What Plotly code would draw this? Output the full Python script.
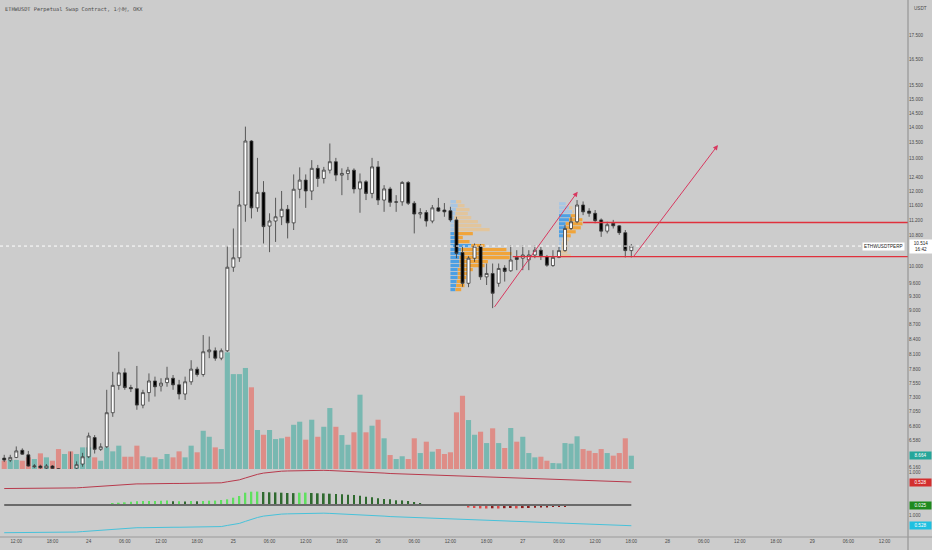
import numpy as np
import pandas as pd
import plotly.graph_objects as go

BG = "#cccccc"
UP_VOL = "#78b8b1"
DN_VOL = "#de8d87"

# ETHWUSDT perpetual, 1h candles, 23 Sep 10:00 -> 27 Sep 18:00
times = pd.date_range("2022-09-23 10:00", periods=105, freq="h")

opens = [6.30, 6.27, 6.31, 6.42, 6.35, 6.17, 6.18, 6.15, 6.18, 6.14,
         6.05, 6.10, 6.15, 6.21, 6.32, 6.62, 6.435, 6.475, 7.03, 7.51,
         7.74, 7.47, 7.45, 7.16, 7.38, 7.59, 7.50, 7.56, 7.64, 7.52,
         7.355, 7.575, 7.81, 7.71, 8.145, 8.165, 8.02, 8.165, 9.99, 10.22,
         11.61, 13.55, 11.53, 11.97, 11.035, 11.17, 11.285, 11.49, 11.12, 12.06,
         12.33, 12.01, 12.685, 12.38, 12.63, 12.89, 12.48, 12.53, 12.63, 12.07,
         12.28, 11.94, 12.73, 11.75, 12.07, 11.685, 11.70, 12.26, 11.66, 11.36,
         11.40, 11.17, 11.53, 11.47, 11.45, 11.20, 10.35, 9.61, 10.21, 10.51,
         9.76, 9.84, 9.61, 9.97, 9.905, 10.23, 10.21, 10.17, 10.29, 10.41,
         10.25, 10.03, 10.23, 10.40, 10.97, 11.15, 11.61, 11.44, 11.38, 11.20,
         10.90, 11.11, 11.04, 10.86, 10.40]
highs = [6.35, 6.35, 6.48, 6.45, 6.41, 6.21, 6.20, 6.21, 6.195, 6.15,
         6.11, 6.40, 6.25, 6.38, 6.70, 6.66, 6.53, 7.43, 7.76, 8.145,
         7.825, 7.52, 7.87, 7.43, 7.73, 7.67, 7.64, 7.855, 7.70, 7.61,
         7.67, 7.98, 7.855, 8.48, 8.45, 8.23, 8.21, 10.50, 10.97, 12.01,
         14.03, 13.58, 13.01, 12.30, 11.38, 11.815, 12.01, 11.61, 12.50, 12.715,
         12.50, 12.94, 12.79, 12.73, 13.47, 13.01, 12.685, 12.73, 12.685, 12.53,
         12.33, 13.01, 12.91, 12.18, 12.13, 11.89, 12.30, 12.30, 11.72, 11.52,
         11.47, 11.61, 11.81, 11.665, 11.56, 11.285, 10.54, 10.26, 10.58, 10.565,
         10.08, 10.08, 10.08, 10.04, 10.54, 10.41, 10.54, 10.41, 10.54, 10.50,
         10.29, 10.41, 10.50, 11.06, 11.285, 11.75, 11.71, 11.52, 11.47, 11.24,
         11.15, 11.20, 11.06, 10.93, 10.565]
lows = [6.24, 6.24, 6.30, 6.35, 6.17, 6.15, 6.14, 6.13, 6.13, 6.02,
        6.00, 6.03, 6.12, 6.17, 6.30, 6.37, 6.41, 6.455, 6.96, 7.43,
        7.43, 7.39, 7.08, 7.105, 7.22, 7.31, 7.40, 7.485, 7.43, 7.26,
        7.25, 7.52, 7.67, 7.67, 8.02, 7.97, 7.98, 8.14, 9.88, 10.12,
        11.15, 11.24, 11.42, 10.58, 10.36, 10.62, 11.06, 10.71, 10.93, 11.80,
        11.53, 11.75, 12.13, 12.23, 12.53, 12.30, 11.89, 12.33, 11.94, 11.395,
        11.75, 11.80, 11.61, 11.42, 11.56, 11.42, 11.59, 11.61, 10.84, 11.24,
        11.02, 11.11, 11.42, 11.285, 11.15, 10.21, 9.53, 9.52, 10.12, 9.69,
        9.57, 9.05, 9.53, 9.65, 9.88, 9.92, 9.92, 9.92, 10.21, 10.165,
        10.00, 10.00, 10.21, 10.37, 10.93, 11.11, 11.33, 11.285, 11.11, 10.75,
        10.84, 10.97, 10.80, 10.23, 10.23]
closes = [6.27, 6.31, 6.41, 6.36, 6.18, 6.18, 6.155, 6.18, 6.146, 6.05,
          6.09, 6.08, 6.20, 6.32, 6.645, 6.435, 6.475, 7.03, 7.51, 7.74,
          7.47, 7.45, 7.16, 7.38, 7.59, 7.485, 7.55, 7.64, 7.52, 7.355,
          7.575, 7.81, 7.71, 8.145, 8.18, 8.02, 8.165, 9.99, 10.22, 11.61,
          13.55, 11.53, 11.97, 11.02, 11.17, 11.285, 11.49, 11.12, 12.06, 12.33,
          12.01, 12.685, 12.38, 12.63, 12.89, 12.48, 12.53, 12.63, 12.07, 12.28,
          11.94, 12.73, 11.75, 12.07, 11.685, 11.70, 12.26, 11.66, 11.36, 11.40,
          11.17, 11.53, 11.44, 11.42, 11.20, 10.33, 9.61, 10.21, 10.51, 9.76,
          9.84, 9.38, 9.96, 9.89, 10.165, 10.18, 10.29, 10.29, 10.41, 10.27,
          10.04, 10.23, 10.40, 10.97, 11.15, 11.61, 11.42, 11.38, 11.18, 10.90,
          11.07, 11.04, 10.86, 10.40, 10.514]
volumes = [5.4, 5.9, 5.9, 5.4, 7.6, 6.5, 10.2, 7.6, 5.4, 13.0,
           9.8, 11.5, 9.8, 14.1, 14.1, 7.6, 5.4, 14.1, 11.5, 15.2,
           8.0, 8.0, 15.2, 8.3, 7.6, 7.6, 6.5, 9.8, 7.6, 11.5,
           7.6, 15.2, 10.9, 24.9, 21.0, 14.1, 13.0, 76.0, 61.8, 61.8,
           65.8, 53.2, 25.4, 22.3, 25.4, 19.5, 20.0, 21.0, 28.8, 30.8,
           19.1, 32.1, 21.0, 27.5, 39.7, 27.5, 22.1, 15.8, 23.9, 48.4,
           23.9, 28.2, 32.1, 20.0, 9.1, 6.5, 8.3, 6.5, 20.0, 10.4,
           17.8, 11.3, 13.0, 9.8, 10.9, 36.9, 47.7, 31.9, 22.3, 24.3,
           16.9, 26.5, 16.9, 13.7, 26.7, 17.8, 21.0, 10.4, 7.6, 8.0,
           5.4, 3.9, 3.7, 16.9, 16.5, 21.3, 13.0, 11.9, 10.4, 13.0,
           10.4, 8.7, 10.4, 20.0, 8.664]

# oscillator histogram (middle indicator pane)
hist = [0, 0, 0, 0, 0, 0, 0, 0, 0, 0,
        0, 0, 0, 0, 0, 0, 0, 0, 0.017, 0.023,
        0.027, 0.033, 0.037, 0.040, 0.040, 0.041, 0.043, 0.044, 0.037, 0.037,
        0.036, 0.040, 0.037, 0.040, 0.043, 0.044, 0.050, 0.057, 0.073, 0.090,
        0.123, 0.133, 0.134, 0.130, 0.127, 0.126, 0.123, 0.120, 0.119, 0.123,
        0.124, 0.120, 0.117, 0.116, 0.113, 0.110, 0.107, 0.103, 0.100, 0.093,
        0.083, 0.077, 0.067, 0.060, 0.057, 0.047, 0.046, 0.040, 0.030, 0.020,
        0.010, 0.003, 0, 0, 0, 0, -0.005, -0.025, -0.030, -0.034,
        -0.035, -0.033, -0.035, -0.032, -0.030, -0.034, -0.031, -0.030, -0.028, -0.026,
        -0.025, -0.021, -0.020, -0.015, 0, 0, 0, 0, 0, 0,
        0, 0, 0, 0, 0]

# smoothed ratio line (shown in the red and the cyan pane)
ratio = [0.22, 0.22, 0.22, 0.23, 0.23, 0.23, 0.23, 0.24, 0.24, 0.24,
         0.24, 0.25, 0.25, 0.27, 0.29, 0.30, 0.31, 0.34, 0.37, 0.40,
         0.42, 0.43, 0.44, 0.44, 0.45, 0.45, 0.45, 0.46, 0.46, 0.46,
         0.46, 0.47, 0.47, 0.48, 0.48, 0.49, 0.49, 0.54, 0.58, 0.63,
         0.72, 0.81, 0.89, 0.95, 0.99, 1.02, 1.04, 1.05, 1.06, 1.07,
         1.08, 1.08, 1.08, 1.08, 1.07, 1.06, 1.05, 1.04, 1.03, 1.01,
         0.99, 0.98, 0.96, 0.95, 0.93, 0.92, 0.91, 0.90, 0.89, 0.87,
         0.86, 0.84, 0.83, 0.82, 0.80, 0.79, 0.78, 0.77, 0.77, 0.76,
         0.76, 0.75, 0.75, 0.74, 0.73, 0.72, 0.71, 0.69, 0.68, 0.67,
         0.66, 0.65, 0.63, 0.61, 0.60, 0.59, 0.58, 0.57, 0.56, 0.55,
         0.55, 0.54, 0.54, 0.53, 0.528]

# price scale labels (the ones not hidden behind the value boxes)
price_ticks = [6.16, 6.58, 6.8, 7.05, 7.3, 7.55, 7.8, 8.1, 8.4, 8.7, 9.0, 9.3,
               9.6, 10.0, 10.8, 11.2, 11.6, 12.0, 12.4, 13.0, 13.5, 14.0,
               14.5, 15.0, 15.5, 16.5, 17.5]

# fixed range volume profiles: rows listed top -> bottom
vp1_start = pd.Timestamp("2022-09-26 12:00")
vp1_high, vp1_low = 11.75, 9.41
vp1_up = [5.7, 7.3, 5.7, 5, 4, 4, 4, 4, 4, 5, 5.7, 20.7, 10.7, 10.7, 9, 9, 9,
          7.3, 7.3, 7.3, 6.3, 5.7, 5]
vp1_down = [5, 6.7, 13.3, 12.3, 16.7, 23.3, 26.7, 35, 18.3, 7.3, 13.3, 13.3, 45,
            50, 50, 28.3, 25, 15, 11.7, 8.3, 7.7, 8.3, 5.7]
vp1_va = (8, 22)
vp2_start = pd.Timestamp("2022-09-27 06:00")
vp2_high, vp2_low = 11.69, 10.21
vp2_up = [6.7, 10, 13.3, 11.7, 10, 6.7, 6.7, 6.7, 4, 3.3, 2.7, 2.7, 2, 2]
vp2_down = [0, 3.3, 1.7, 8.3, 13.3, 16.7, 15, 10, 7.7, 6.7, 5.7, 5.7, 6.3, 9.7]
vp2_va = (3, 8)

# drawings (time, price)
hline_upper = (pd.Timestamp("2022-09-27 10:00"), 11.13)
hline_lower = (pd.Timestamp("2022-09-26 22:20"), 10.25)
arrow_1 = ((pd.Timestamp("2022-09-26 19:08"), 9.045), (pd.Timestamp("2022-09-27 09:06"), 11.99))
arrow_2 = ((pd.Timestamp("2022-09-27 18:10"), 10.21), (pd.Timestamp("2022-09-28 08:22"), 13.42))

x_start = pd.Timestamp("2022-09-23 09:18")
x_end = pd.Timestamp("2022-09-29 15:53")

vol_colors = [UP_VOL if c >= o else DN_VOL for o, c in zip(opens, closes)]
hist_colors = []
prev = 0
for h in hist:
    if h >= 0:
        hist_colors.append("#5fe05f" if h >= prev else "#2f6a2f")
    else:
        hist_colors.append("#8c1c1c" if h >= prev else "#e04a4a")
    prev = h

fig = go.Figure()

fig.add_trace(go.Bar(
    x=times, y=volumes, yaxis="y", marker=dict(color=vol_colors, line=dict(width=0)),
    width=0.85 * 3600 * 1000,
))
fig.add_trace(go.Candlestick(
    x=times, open=opens, high=highs, low=lows, close=closes, yaxis="y2",
    increasing=dict(fillcolor="white", line=dict(color="#3a3a3a", width=0.8)),
    decreasing=dict(fillcolor="black", line=dict(color="#3a3a3a", width=0.8)),
    whiskerwidth=0,
))
fig.add_trace(go.Scatter(x=times, y=ratio, yaxis="y3", mode="lines",
                         line=dict(color="#b83a4c", width=1)))
fig.add_trace(go.Bar(x=times, y=hist, yaxis="y4", marker=dict(color=hist_colors, line=dict(width=0)),
                     width=0.28 * 3600 * 1000))
fig.add_trace(go.Scatter(x=times, y=ratio, yaxis="y5", mode="lines",
                         line=dict(color="#47c2da", width=1)))

VP_UNIT = pd.Timedelta(minutes=10)


def profile_shapes(start, p_high, p_low, up, down, va):
    edges = np.geomspace(p_high, p_low, len(up) + 1)
    out = []
    for k in range(len(up)):
        top = edges[k]
        bot = top * (edges[k + 1] / top) ** 0.8
        solid = va[0] <= k <= va[1]
        x_mid = start + up[k] * VP_UNIT
        x_end_row = x_mid + down[k] * VP_UNIT
        out.append(dict(type="rect", xref="x", yref="y2", x0=start, x1=x_mid, y0=bot, y1=top,
                        fillcolor="#4c9fe4" if solid else "#a8c6e2", line=dict(width=0), layer="below"))
        if down[k] > 0:
            out.append(dict(type="rect", xref="x", yref="y2", x0=x_mid, x1=x_end_row, y0=bot, y1=top,
                            fillcolor="#f0a43a" if solid else "#e2c59c", line=dict(width=0), layer="below"))
    return out


shapes = []
shapes += profile_shapes(vp1_start, vp1_high, vp1_low, vp1_up, vp1_down, vp1_va)
shapes += profile_shapes(vp2_start, vp2_high, vp2_low, vp2_up, vp2_down, vp2_va)
for t0, p in (hline_upper, hline_lower):
    shapes.append(dict(type="line", xref="x", yref="y2", x0=t0, x1=x_end, y0=p, y1=p,
                       line=dict(color="#e0303c", width=1.3)))
# last price line
shapes.append(dict(type="line", xref="paper", yref="y2", x0=0, x1=0.954, y0=closes[-1], y1=closes[-1],
                   line=dict(color="white", width=1, dash="dot")))
# oscillator signal line
shapes.append(dict(type="line", xref="x", yref="y4", x0=times[0], x1=times[-1], y0=0, y1=0,
                   line=dict(color="#6a6a6a", width=2)))
# axis separators
shapes.append(dict(type="line", xref="paper", yref="paper", x0=1, x1=1, y0=-0.03, y1=1,
                   line=dict(color="#8a8a8a", width=1)))
shapes.append(dict(type="line", xref="paper", yref="paper", x0=0, x1=1.03, y0=0, y1=0,
                   line=dict(color="#9a9a9a", width=1)))

annotations = []
for (t0, p0), (t1, p1) in (arrow_1, arrow_2):
    annotations.append(dict(x=t1, y=np.log10(p1), ax=t0, ay=np.log10(p0),
                            xref="x", yref="y2", axref="x", ayref="y2", text="",
                            showarrow=True, arrowhead=2, arrowsize=1, arrowwidth=1,
                            arrowcolor="#d8385f"))

lab_font = dict(family="Liberation Sans", size=4.6, color="#4a4a4a")
annotations.append(dict(x=0.003, y=0.983, xref="paper", yref="paper", xanchor="left", yanchor="middle",
                        text="ETHWUSDT Perpetual Swap Contract, 1小时, OKX", showarrow=False,
                        font=dict(family="DejaVu Sans Mono", size=5.3, color="#4a4a4a")))
annotations.append(dict(x=1.004, y=0.985, xref="paper", yref="paper", xanchor="left", yanchor="middle",
                        text="USDT", showarrow=False, font=lab_font))
annotations.append(dict(x=0.9967, y=np.log10(closes[-1]), xref="paper", yref="y2", xanchor="right",
                        yanchor="middle", text="ETHWUSDTPERP", showarrow=False, bgcolor="white",
                        borderpad=1, font=dict(family="Liberation Sans", size=4.6, color="#222")))
annotations.append(dict(x=1.001, y=np.log10(closes[-1]), xref="paper", yref="y2", xanchor="left",
                        yanchor="middle", text=f"{closes[-1]:.3f}<br>16:42", showarrow=False,
                        bgcolor="white", borderpad=1, width=20,
                        font=dict(family="Liberation Sans", size=4.6, color="#222")))


def value_box(y, yref, text, color):
    return dict(x=1.001, y=y, xref="paper", yref=yref, xanchor="left", yanchor="middle", text=text,
                showarrow=False, bgcolor=color, borderpad=1, width=19,
                font=dict(family="Liberation Sans", size=4.6, color="white"))


annotations.append(value_box(volumes[-1], "y", f"{volumes[-1]:.3f}", "#26a69a"))
annotations.append(value_box(ratio[-1], "y3", f"{ratio[-1]:.3f}", "#d32f2f"))
annotations.append(value_box(0, "y4", "0.025", "#1f8a1f"))
annotations.append(value_box(ratio[-1], "y5", f"{ratio[-1]:.3f}", "#1fc0e0"))

x_ticks = pd.date_range("2022-09-23 12:00", "2022-09-29 12:00", freq="6h")
x_text = [str(t.day) if t.hour == 0 else t.strftime("%H:%M") for t in x_ticks]

axis_common = dict(showgrid=False, zeroline=False, showline=False, ticks="")
fig.update_layout(
    width=932, height=550,
    margin=dict(l=0, r=24, t=0, b=13),
    paper_bgcolor=BG, plot_bgcolor=BG,
    showlegend=False, hovermode=False,
    font=lab_font,
    xaxis=dict(type="date", range=[x_start, x_end], tickvals=x_ticks, ticktext=x_text,
               anchor="y5", rangeslider=dict(visible=False), tickfont=lab_font, **axis_common),
    yaxis=dict(domain=[0.1266, 1], range=[0, 305.4], visible=False, fixedrange=True),
    yaxis2=dict(overlaying="y", type="log", range=[np.log10(6.136), np.log10(19.05)], side="right",
                tickvals=price_ticks, ticktext=[f"{v:.3f}" for v in price_ticks], tickfont=lab_font,
                **axis_common),
    yaxis3=dict(domain=[0.0689, 0.1266], range=[-0.321, 1.142], side="right", anchor="x",
                tickvals=[1.0], ticktext=["1.000"], tickfont=lab_font, **axis_common),
    yaxis4=dict(domain=[0.04655, 0.08752], range=[-0.07, 0.15], visible=False, anchor="x"),
    yaxis5=dict(domain=[0, 0.0596], range=[0.031, 1.44], side="right", anchor="x",
                tickvals=[1.0], ticktext=["1.000"], tickfont=lab_font, **axis_common),
    shapes=shapes,
    annotations=annotations,
)

fig.write_html("out.html", config={"displayModeBar": False},
               post_script="document.body.style.margin='0';")
